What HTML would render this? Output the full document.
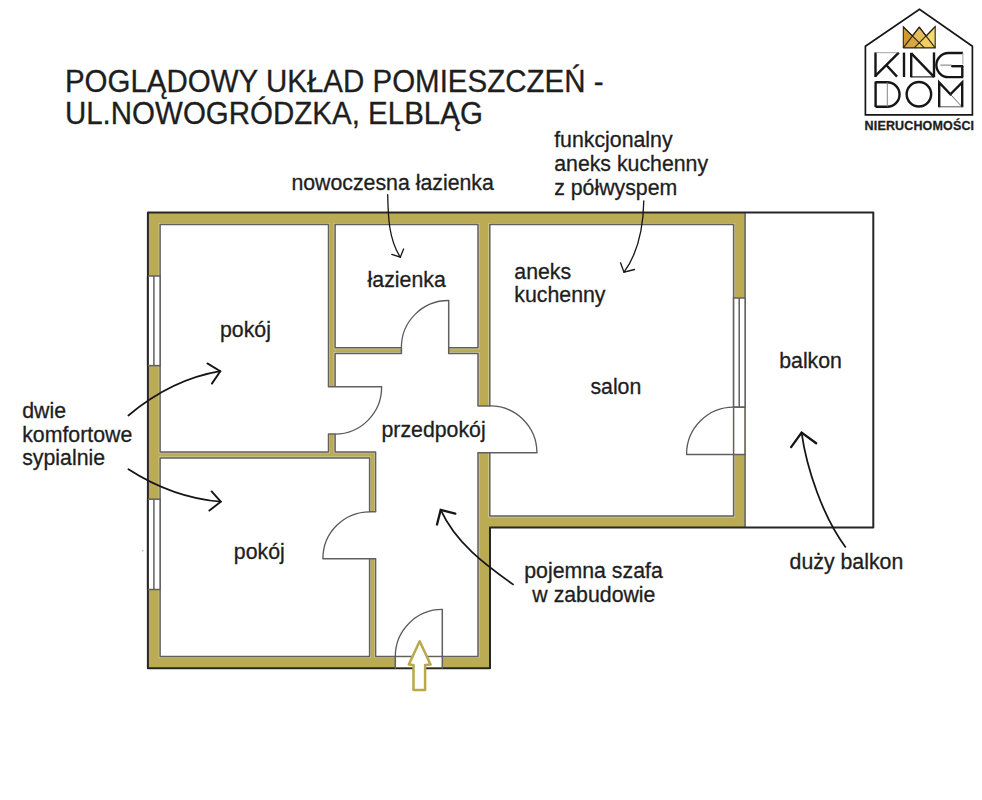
<!DOCTYPE html>
<html><head><meta charset="utf-8">
<style>
html,body{margin:0;padding:0;background:#fff;}
body{width:982px;height:800px;overflow:hidden;position:relative;font-family:"Liberation Sans",sans-serif;}
svg{position:absolute;left:0;top:0;}
text{font-family:"Liberation Sans",sans-serif;fill:#1e1e1e;stroke:#1e1e1e;stroke-width:0.3px;}
</style></head><body>
<svg width="982" height="800" viewBox="0 0 982 800">
<g fill="#bbab55">
<rect x="147.9" y="212.6" width="597.2" height="12.0"/>
<rect x="147.9" y="212.6" width="12.2" height="455.6"/>
<rect x="147.9" y="656.4" width="342.1" height="11.8"/>
<rect x="478" y="212.6" width="12" height="455.6"/>
<rect x="478" y="516" width="267.1" height="11.6"/>
<rect x="733.6" y="212.6" width="11.5" height="315.0"/>
<rect x="328.5" y="224" width="6.6" height="234"/>
<rect x="335.1" y="347.7" width="142.9" height="5.7"/>
<rect x="160.1" y="451.9" width="215.5" height="6.1"/>
<rect x="369.6" y="451.9" width="6.0" height="205.1"/>
</g>
<g fill="none" stroke="#d6d0a2" stroke-width="2.9">
<path d="M160.1,224.6 L328.5,224.6 L328.5,451.9 L160.1,451.9 Z"/>
<path d="M335.1,224.6 L478,224.6 L478,347.7 L335.1,347.7 Z"/>
<path d="M335.1,353.4 L478,353.4 L478,656.4 L375.6,656.4 L375.6,451.9 L335.1,451.9 Z"/>
<path d="M160.1,458 L369.6,458 L369.6,656.4 L160.1,656.4 Z"/>
<path d="M489.8,224.6 L733.6,224.6 L733.6,516 L489.8,516 Z"/>
</g>
<g fill="#fff" stroke="none">
<path d="M160.1,224.6 L328.5,224.6 L328.5,451.9 L160.1,451.9 Z"/>
<path d="M335.1,224.6 L478,224.6 L478,347.7 L335.1,347.7 Z"/>
<path d="M335.1,353.4 L478,353.4 L478,656.4 L375.6,656.4 L375.6,451.9 L335.1,451.9 Z"/>
<path d="M160.1,458 L369.6,458 L369.6,656.4 L160.1,656.4 Z"/>
<path d="M489.8,224.6 L733.6,224.6 L733.6,516 L489.8,516 Z"/>
</g>
<g fill="none" stroke="#606060" stroke-width="1.5" stroke-linejoin="round">
<path d="M160.1,224.6 L328.5,224.6 L328.5,451.9 L160.1,451.9 Z"/>
<path d="M335.1,224.6 L478,224.6 L478,347.7 L335.1,347.7 Z"/>
<path d="M335.1,353.4 L478,353.4 L478,656.4 L375.6,656.4 L375.6,451.9 L335.1,451.9 Z"/>
<path d="M160.1,458 L369.6,458 L369.6,656.4 L160.1,656.4 Z"/>
<path d="M489.8,224.6 L733.6,224.6 L733.6,516 L489.8,516 Z"/>
</g>
<path d="M745.1,212.6 V527.6" stroke="#606060" stroke-width="1.5" fill="none"/>
<path d="M490,527.6 H873.3 V212.6 H147.9 V668.2 H490 Z" fill="none" stroke="#262626" stroke-width="2.0" stroke-linejoin="round"/>
<rect x="147.9" y="276" width="12.2" height="89.6" fill="#fff"/>
<line x1="147.9" y1="276" x2="147.9" y2="365.6" stroke="#262626" stroke-width="2.0"/>
<line x1="153.9" y1="276" x2="153.9" y2="365.6" stroke="#606060" stroke-width="1.5"/>
<line x1="160.1" y1="275.2" x2="160.1" y2="366.4" stroke="#606060" stroke-width="1.5"/>
<line x1="147.9" y1="276" x2="160.1" y2="276" stroke="#606060" stroke-width="1.5"/>
<line x1="147.9" y1="365.6" x2="160.1" y2="365.6" stroke="#606060" stroke-width="1.5"/>
<rect x="147.9" y="499.2" width="12.2" height="90.3" fill="#fff"/>
<line x1="147.9" y1="499.2" x2="147.9" y2="589.5" stroke="#262626" stroke-width="2.0"/>
<line x1="153.9" y1="499.2" x2="153.9" y2="589.5" stroke="#606060" stroke-width="1.5"/>
<line x1="160.1" y1="498.4" x2="160.1" y2="590.3" stroke="#606060" stroke-width="1.5"/>
<line x1="147.9" y1="499.2" x2="160.1" y2="499.2" stroke="#606060" stroke-width="1.5"/>
<line x1="147.9" y1="589.5" x2="160.1" y2="589.5" stroke="#606060" stroke-width="1.5"/>
<rect x="733.6" y="298" width="11.5" height="109.2" fill="#fff"/>
<line x1="745.1" y1="298" x2="745.1" y2="407.2" stroke="#606060" stroke-width="1.5"/>
<line x1="739.2" y1="298" x2="739.2" y2="407.2" stroke="#606060" stroke-width="1.5"/>
<line x1="733.6" y1="297.2" x2="733.6" y2="408.0" stroke="#606060" stroke-width="1.5"/>
<line x1="733.6" y1="298" x2="745.1" y2="298" stroke="#606060" stroke-width="1.5"/>
<line x1="733.6" y1="407.2" x2="745.1" y2="407.2" stroke="#606060" stroke-width="1.5"/>
<rect x="326.5" y="386.8" width="10.6" height="47.3" fill="#fff"/>
<line x1="328.5" y1="386.8" x2="381.6" y2="386.8" stroke="#606060" stroke-width="1.5" stroke-linecap="round"/>
<line x1="328.5" y1="434.1" x2="335.1" y2="434.1" stroke="#606060" stroke-width="1.5" stroke-linecap="round"/>
<path d="M381.6,386.8 A46.8,46.8 0 0 1 335.1,434.1" fill="none" stroke="#5a5a5a" stroke-width="1.3"/>
<rect x="401.4" y="345.7" width="47.3" height="9.7" fill="#fff"/>
<line x1="448.7" y1="300.5" x2="448.7" y2="353.4" stroke="#606060" stroke-width="1.5" stroke-linecap="round"/>
<line x1="401.4" y1="347.7" x2="401.4" y2="353.4" stroke="#606060" stroke-width="1.5" stroke-linecap="round"/>
<path d="M448.7,300.5 A47,47 0 0 0 401.4,347.5" fill="none" stroke="#5a5a5a" stroke-width="1.3"/>
<rect x="476" y="405.9" width="15.8" height="46.8" fill="#fff"/>
<line x1="478" y1="452.7" x2="536.9" y2="452.7" stroke="#606060" stroke-width="1.5" stroke-linecap="round"/>
<line x1="478" y1="405.9" x2="489.8" y2="405.9" stroke="#606060" stroke-width="1.5" stroke-linecap="round"/>
<path d="M489.8,405.9 A46.8,46.8 0 0 1 536.9,452.7" fill="none" stroke="#5a5a5a" stroke-width="1.3"/>
<rect x="367.6" y="511.8" width="10.0" height="47.0" fill="#fff"/>
<line x1="322.9" y1="558.8" x2="375.6" y2="558.8" stroke="#606060" stroke-width="1.5" stroke-linecap="round"/>
<line x1="369.6" y1="511.8" x2="375.6" y2="511.8" stroke="#606060" stroke-width="1.5" stroke-linecap="round"/>
<path d="M369.6,511.8 A46.8,46.8 0 0 0 322.9,558.6" fill="none" stroke="#5a5a5a" stroke-width="1.3"/>
<rect x="395.3" y="657.4" width="47.0" height="9.8" fill="#fff"/>
<line x1="442.3" y1="609.4" x2="442.3" y2="668.2" stroke="#606060" stroke-width="1.5" stroke-linecap="round"/>
<line x1="395.3" y1="656.4" x2="395.3" y2="668.2" stroke="#606060" stroke-width="1.5" stroke-linecap="round"/>
<path d="M442.3,609.4 A47,47 0 0 0 395.3,656.4" fill="none" stroke="#5a5a5a" stroke-width="1.3"/>
<rect x="734.6" y="407.2" width="9.5" height="47.3" fill="#fff"/>
<line x1="686.6" y1="454.5" x2="745.1" y2="454.5" stroke="#606060" stroke-width="1.5" stroke-linecap="round"/>
<line x1="733.6" y1="407.2" x2="745.1" y2="407.2" stroke="#606060" stroke-width="1.5" stroke-linecap="round"/>
<path d="M733.6,407.2 A47,47 0 0 0 686.6,454.4" fill="none" stroke="#5a5a5a" stroke-width="1.3"/>
<circle cx="142.8" cy="550.7" r="0.8" fill="#a9a2e6"/>
<path d="M419.65,641.3 L430.6,664.6 L425.1,664.9 L425.1,690.1 L413.5,690.1 L413.5,664.9 L408.8,664.6 Z" fill="#fff" stroke="#b9a94b" stroke-width="2.5" stroke-linejoin="round"/>
<path d="M387.7,194.6 C388.1,215.7 388.5,238.8 400.3,257.2" fill="none" stroke="#151515" stroke-width="1.3" stroke-linecap="round" stroke-linejoin="miter"/>
<path d="M391.8,254.3 L400.3,257.2 L403.6,249" fill="none" stroke="#151515" stroke-width="1.3" stroke-linecap="round" stroke-linejoin="miter"/>
<path d="M643.8,201 C643.3,225.9 639.1,251.7 624,272.2" fill="none" stroke="#151515" stroke-width="1.3" stroke-linecap="round" stroke-linejoin="miter"/>
<path d="M620.5,262.8 L624,272.2 L634.5,269.5" fill="none" stroke="#151515" stroke-width="1.3" stroke-linecap="round" stroke-linejoin="miter"/>
<path d="M128.4,415.5 C154.6,393.5 186.3,376.9 220.3,371.2" fill="none" stroke="#151515" stroke-width="1.75" stroke-linecap="round" stroke-linejoin="miter"/>
<path d="M207.4,363.4 L220.3,371.2 L211.9,383.6" fill="none" stroke="#151515" stroke-width="1.9" stroke-linecap="round" stroke-linejoin="miter"/>
<path d="M128.4,469.2 C156,486.9 187.9,499 220.8,501.7" fill="none" stroke="#151515" stroke-width="1.75" stroke-linecap="round" stroke-linejoin="miter"/>
<path d="M211.6,491.4 L220.8,501.7 L209.4,510.6" fill="none" stroke="#151515" stroke-width="1.9" stroke-linecap="round" stroke-linejoin="miter"/>
<path d="M513,584.4 C484.6,564.3 455.7,542.7 440.7,509.9" fill="none" stroke="#151515" stroke-width="1.75" stroke-linecap="round" stroke-linejoin="miter"/>
<path d="M437,524.5 L440.7,509.9 L455.3,513.7" fill="none" stroke="#151515" stroke-width="2.3" stroke-linecap="round" stroke-linejoin="miter"/>
<path d="M845.4,546.9 C823.1,517.1 806.5,468.4 801.6,432.6" fill="none" stroke="#151515" stroke-width="1.75" stroke-linecap="round" stroke-linejoin="miter"/>
<path d="M791.1,447.1 L801.6,432.6 L816.2,443.3" fill="none" stroke="#151515" stroke-width="2.3" stroke-linecap="round" stroke-linejoin="miter"/>
<text x="291.4" y="190.3" font-size="21.3" text-anchor="start">nowoczesna łazienka</text>
<text x="554.2" y="147.1" font-size="21.3" text-anchor="start">funkcjonalny</text>
<text x="554.2" y="171.1" font-size="21.3" text-anchor="start">aneks kuchenny</text>
<text x="554.2" y="195.2" font-size="21.3" text-anchor="start">z półwyspem</text>
<text x="367.6" y="286.6" font-size="21.3" text-anchor="start">łazienka</text>
<text x="514.3" y="278.5" font-size="21.3" text-anchor="start">aneks</text>
<text x="514.3" y="302" font-size="21.3" text-anchor="start">kuchenny</text>
<text x="220" y="336.7" font-size="21.3" text-anchor="start">pokój</text>
<text x="590.4" y="393.7" font-size="21.3" text-anchor="start">salon</text>
<text x="779.2" y="367.5" font-size="21.3" text-anchor="start">balkon</text>
<text x="381.5" y="437.1" font-size="21.3" text-anchor="start">przedpokój</text>
<text x="22.2" y="417.7" font-size="21.3" text-anchor="start">dwie</text>
<text x="22.2" y="441.5" font-size="21.3" text-anchor="start">komfortowe</text>
<text x="22.2" y="465" font-size="21.3" text-anchor="start">sypialnie</text>
<text x="233.8" y="558.5" font-size="21.3" text-anchor="start">pokój</text>
<text x="593.5" y="577.9" font-size="21.3" text-anchor="middle">pojemna szafa</text>
<text x="593.9" y="601.5" font-size="21.3" text-anchor="middle">w zabudowie</text>
<text x="789.6" y="569.2" font-size="21.3" text-anchor="start">duży balkon</text>
<text transform="translate(64.9,91.5) scale(1.002,1.035)" x="0" y="0" font-size="29.45">POGLĄDOWY UKŁAD POMIESZCZEŃ -</text>
<text transform="translate(64.9,124.2) scale(1.002,1.035)" x="0" y="0" font-size="29.45">UL.NOWOGRÓDZKA, ELBLĄG</text>
<path d="M865.4,114.8 L865.4,46.3 L919.5,9.2 L972.4,46.3 L972.4,114.8 Z" fill="none" stroke="#161616" stroke-width="1.7" stroke-linejoin="miter"/>
<polygon points="903.3,26.9 912.4,35.8 903.3,47.9" fill="#d29a2e"/>
<polygon points="919.3,27.1 912.4,35.8 919.3,42.8 926.1,36.1" fill="#e6bd5a"/>
<polygon points="935.2,26.7 935.2,47.9 926.1,36.1" fill="#f3db72"/>
<polygon points="903.3,47.9 912.4,35.8 919.3,42.8 914.3,47.9" fill="#d8a742"/>
<polygon points="914.3,47.9 919.3,42.8 924.4,47.9" fill="#eec65c"/>
<polygon points="919.3,42.8 926.1,36.1 935.2,47.9 924.4,47.9" fill="#f1cd62"/>
<polyline points="903.3,47.9 903.3,26.9 912.4,35.8 919.3,27.1 926.1,36.1 935.2,26.7 935.2,47.9 903.3,47.9" fill="none" stroke="#2a2418" stroke-width="1.1" stroke-linejoin="miter"/>
<polyline points="903.3,26.9 924.4,47.9" fill="none" stroke="#2a2418" stroke-width="1.1" stroke-linejoin="miter"/>
<polyline points="919.3,27.1 903.3,47.9" fill="none" stroke="#2a2418" stroke-width="1.1" stroke-linejoin="miter"/>
<polyline points="919.3,27.1 935.2,47.9" fill="none" stroke="#2a2418" stroke-width="1.1" stroke-linejoin="miter"/>
<polyline points="935.2,26.7 914.3,47.9" fill="none" stroke="#2a2418" stroke-width="1.1" stroke-linejoin="miter"/>
<path d="M875.5,52.4 V77" fill="none" stroke="#161616" stroke-width="2.4" stroke-linecap="butt" stroke-linejoin="miter"/>
<path d="M898.8,52.6 L875.4,75.8" fill="none" stroke="#161616" stroke-width="2.4" stroke-linecap="butt" stroke-linejoin="miter"/>
<path d="M886,64.8 L897,76.6" fill="none" stroke="#161616" stroke-width="2.4" stroke-linecap="butt" stroke-linejoin="miter"/>
<path d="M875.5,52.7 H898.6" fill="none" stroke="#8a8a8a" stroke-width="0.8" stroke-linecap="butt" stroke-linejoin="miter"/>
<path d="M904,52.6 V77" fill="none" stroke="#161616" stroke-width="2.4" stroke-linecap="butt" stroke-linejoin="miter"/>
<path d="M911.2,52.8 V77.3" fill="none" stroke="#161616" stroke-width="2.4" stroke-linecap="butt" stroke-linejoin="miter"/>
<path d="M911.3,53.4 L934,76.8" fill="none" stroke="#161616" stroke-width="2.4" stroke-linecap="butt" stroke-linejoin="miter"/>
<path d="M934,52.4 V77.3" fill="none" stroke="#161616" stroke-width="2.4" stroke-linecap="butt" stroke-linejoin="miter"/>
<path d="M911.2,76.9 H934" fill="none" stroke="#161616" stroke-width="1.1" stroke-linecap="butt" stroke-linejoin="miter"/>
<path d="M962.9,53 H948.4 A12.05,12.05 0 0 0 948.4,77.1 H963.2" fill="none" stroke="#161616" stroke-width="2.4" stroke-linecap="butt" stroke-linejoin="miter"/>
<path d="M962.3,66 V77.1" fill="none" stroke="#161616" stroke-width="2.4" stroke-linecap="butt" stroke-linejoin="miter"/>
<path d="M951.6,66.2 H963.2" fill="none" stroke="#161616" stroke-width="2.4" stroke-linecap="butt" stroke-linejoin="miter"/>
<path d="M951.6,65.3 V67" fill="none" stroke="#161616" stroke-width="0.8" stroke-linecap="butt" stroke-linejoin="miter"/>
<path d="M940.3,65.1 H951.6" fill="none" stroke="#555" stroke-width="0.8" stroke-linecap="butt" stroke-linejoin="miter"/>
<path d="M962.9,53 V64.5" fill="none" stroke="#9a9a9a" stroke-width="0.9" stroke-linecap="butt" stroke-linejoin="miter"/>
<path d="M875.6,81.5 V107" fill="none" stroke="#161616" stroke-width="2.4" stroke-linecap="butt" stroke-linejoin="miter"/>
<path d="M875.6,82.3 H887.3 A12.25,12.25 0 0 1 887.3,106.8 H875.6" fill="none" stroke="#161616" stroke-width="2.4" stroke-linecap="butt" stroke-linejoin="miter"/>
<path d="M887.3,82.3 V106.8" fill="none" stroke="#777" stroke-width="0.9" stroke-linecap="butt" stroke-linejoin="miter"/>
<circle cx="918.9" cy="94.3" r="12.25" fill="none" stroke="#161616" stroke-width="2.4"/>
<path d="M939.2,107.2 V82.5 L950.4,94.3 L962.2,82.5 V107.2" fill="none" stroke="#161616" stroke-width="2.4" stroke-linecap="butt" stroke-linejoin="miter"/>
<path d="M939.2,106.8 H962.2" fill="none" stroke="#444" stroke-width="0.9" stroke-linecap="butt" stroke-linejoin="miter"/>
<path d="M950.4,94.3 L961.8,106.6" fill="none" stroke="#444" stroke-width="0.8" stroke-linecap="butt" stroke-linejoin="miter"/>
<text x="864.6" y="129.8" font-size="12.5" font-weight="bold" letter-spacing="0.15" fill="#1a1a1a">NIERUCHOMOŚCI</text>
</svg>
</body></html>
